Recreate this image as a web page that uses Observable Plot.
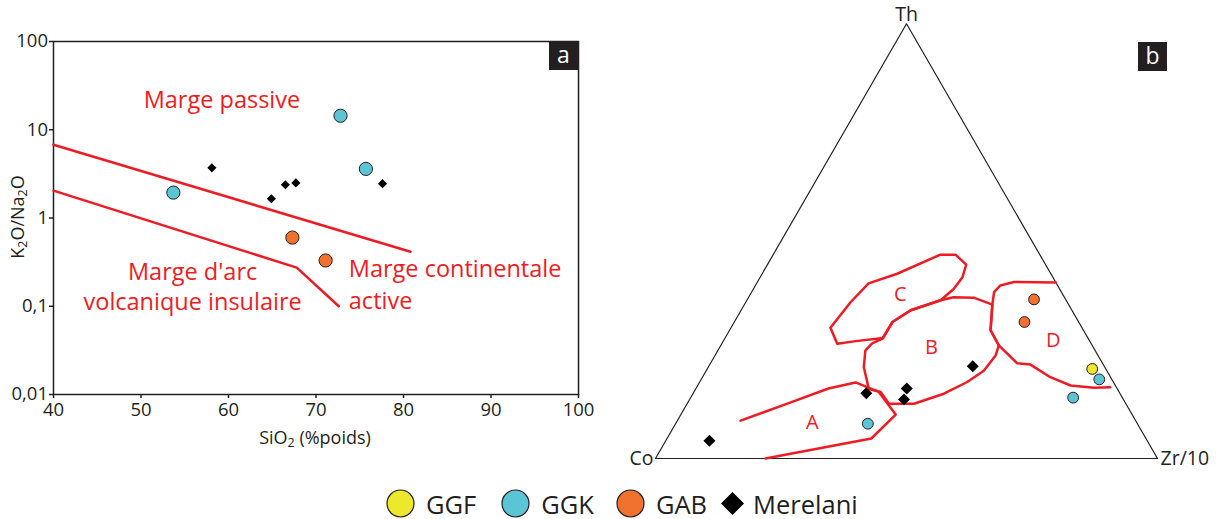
<!DOCTYPE html>
<html><head><meta charset="utf-8">
<script src="https://cdn.jsdelivr.net/npm/d3@7"></script>
<script src="https://cdn.jsdelivr.net/npm/@observablehq/plot@0.6"></script>
<style>
body{margin:0;background:#fff;font-family:"Open Sans",sans-serif;color:#231f20}
#root{position:relative;width:1216px;height:519px;overflow:hidden;background:#fff}
.panel{position:absolute;top:0}
.tag{position:absolute;width:29px;height:29px;background:#231f20;color:#fff;font-size:23px;line-height:26px;text-align:center}
.axt{position:absolute;font-size:18px;line-height:20px;white-space:nowrap;text-align:center}
.axt sub{font-size:12.5px;vertical-align:-3px;line-height:0}
#legend{position:absolute;left:386px;top:489px;display:flex;align-items:center;font-size:25.5px;line-height:28px}
#legend .it{display:flex;align-items:center}
#legend svg{display:block}
</style></head><body><div id="root"></div>
<script>
// ---------- shared ----------
const groupNames = ["GGF", "GGK", "GAB", "Merelani"];
const groupColors = ["#eee82c", "#5bc5d6", "#f1712f", "#000000"];
const red = "#ed1c24";

// ---------- panel a : K2O/Na2O vs SiO2 ----------
const aGroup = ["GGK", "GGK", "GGK", "GAB", "GAB"];
const aSiO2 = [53.7, 72.8, 75.7, 67.3, 71.1];
const aRatio = [1.94, 14.4, 3.6, 0.6, 0.33];
const aMerSiO2 = [58.1, 64.9, 66.5, 67.7, 77.6];
const aMerRatio = [3.7, 1.65, 2.38, 2.5, 2.45];

const passiveSiO2 = [40, 80.8];
const passiveRatio = [6.76, 0.415];
const arcSiO2 = [40, 67.8, 72.6];
const arcRatio = [2.04, 0.274, 0.1];

const xTicksA = [40, 50, 60, 70, 80, 90, 100];
const yTicksA = [0.01, 0.1, 1, 10, 100];
const yTickLabelsA = ["0,01", "0,1", "1", "10", "100"];

const midLabelsA = ["Marge passive", "Marge d'arc", "volcanique insulaire"];
const midLabelSiO2 = [59.25, 55.9, 55.9];
const midLabelRatio = [21.3, 0.24, 0.11];
const startLabelsA = ["Marge continentale", "active"];
const startLabelSiO2 = [73.75, 73.75];
const startLabelRatio = [0.258, 0.114];

// ---------- panel b : Th - Co - Zr/10 ternary (percent) ----------
const bGroup = ["GGK", "GGK", "GGK", "GAB", "GAB", "GGF"];
const bTh = [8.0, 18.2, 14.0, 36.6, 31.4, 20.6];
const bZr = [38.3, 79.3, 76.2, 57.1, 57.8, 76.7];
const bMerTh = [4.1, 15.0, 16.1, 13.6, 21.2];
const bMerZr = [8.7, 34.5, 42.0, 42.7, 52.6];

const fieldATh = [8.7, 12.9, 16.1, 17.5, 15.4, 10.1, 4.6, 0];
const fieldAZr = [12.6, 20.5, 26.4, 31.1, 36.7, 42.8, 40.7, 21.9];
const fieldBTh = [27.5, 31.4, 34.1, 36.4, 37.1, 37.0, 35.4, 29.5, 26.0, 23.7, 20.2, 17.6, 14.9, 12.6, 12.6, 15.3, 16.0, 21.0, 24.8, 26.5, 27.5];
const fieldBZr = [31.4, 31.5, 33.8, 38.6, 40.8, 44.9, 49.4, 52.0, 55.4, 55.9, 55.3, 53.3, 50.0, 45.2, 40.2, 37.2, 34.5, 31.0, 29.4, 29.9, 31.4];
const fieldCTh = [30.1, 36.0, 40.3, 42.5, 46.9, 46.9, 44.6, 41.7, 39.0, 36.4, 34.1, 31.4, 27.7, 27.0, 26.4, 30.1];
const fieldCZr = [19.8, 20.9, 22.3, 26.9, 33.3, 36.3, 39.6, 40.3, 39.9, 38.6, 33.8, 31.5, 31.5, 26.4, 23.0, 19.8];
const fieldDTh = [40.5, 40.6, 39.8, 38.3, 35.4, 29.5, 26.0, 21.9, 21.6, 18.7, 16.8, 16.3, 16.4];
const fieldDZr = [59.5, 51.1, 48.8, 48.3, 49.4, 52.0, 55.4, 61.1, 63.9, 69.3, 74.3, 79.2, 82.4];

const fieldNames = ["A", "B", "C", "D"];
const fieldNameTh = [8.3, 25.5, 37.7, 27.1];
const fieldNameZr = [27.1, 42.2, 29.9, 65.7];

const vertexNames = ["Th", "Co", "Zr/10"];
const vertexTh = [100, 0, 0];
const vertexZr = [0, 0, 100];

// ---------- helpers ----------
const zipA = (xs, ys, extra = {}) => xs.map((x, i) => ({x, y: ys[i], ...Object.fromEntries(Object.entries(extra).map(([k, v]) => [k, v[i]]))}));
const S3 = Math.sqrt(3) / 2;
const tern = (th, zr, extra = {}) => th.map((t, i) => ({x: (zr[i] + t / 2) / 100, y: t * S3 / 100, ...Object.fromEntries(Object.entries(extra).map(([k, v]) => [k, v[i]]))}));

const colorScale = {domain: groupNames, range: groupColors};
const root = document.getElementById("root");
const ink = "#231f20";

// ---------- panel a ----------
const plotA = Plot.plot({
  width: 600, height: 470,
  marginLeft: 53, marginRight: 22, marginTop: 41, marginBottom: 76,
  style: {fontFamily: "'Open Sans', sans-serif", fontSize: "18.5px", color: ink, background: "transparent", overflow: "visible"},
  x: {domain: [40, 100]},
  y: {type: "log", domain: [0.01, 100]},
  color: colorScale,
  marks: [
    Plot.frame({stroke: ink, strokeWidth: 1.5}),
    Plot.axisX({ticks: xTicksA, tickSize: 4, tickPadding: 4, label: null, fontSize: 18.5, strokeWidth: 1.5}),
    Plot.axisY({ticks: yTicksA, tickFormat: d => yTickLabelsA[yTicksA.indexOf(d)], tickSize: 4, tickPadding: 1.5, label: null, fontSize: 18.5, strokeWidth: 1.5}),
    Plot.line(zipA(passiveSiO2, passiveRatio), {x: "x", y: "y", stroke: red, strokeWidth: 2.5}),
    Plot.line(zipA(arcSiO2, arcRatio), {x: "x", y: "y", stroke: red, strokeWidth: 2.5}),
    Plot.text(zipA(midLabelSiO2, midLabelRatio, {t: midLabelsA}), {x: "x", y: "y", text: "t", fill: red, fontSize: 23.5, textAnchor: "middle"}),
    Plot.text(zipA(startLabelSiO2, startLabelRatio, {t: startLabelsA}), {x: "x", y: "y", text: "t", fill: red, fontSize: 23.5, textAnchor: "start"}),
    Plot.dot(zipA(aMerSiO2, aMerRatio), {x: "x", y: "y", symbol: "diamond2", r: 4.1, fill: "#000"}),
    Plot.dot(zipA(aSiO2, aRatio, {g: aGroup}), {x: "x", y: "y", r: 6.6, fill: "g", stroke: ink, strokeWidth: 1})
  ]
});
plotA.classList.add("panel");
plotA.style.left = "0px";
root.appendChild(plotA);

// ---------- panel b ----------
const tri = tern([0, 0, 100, 0], [0, 100, 0, 0]);
const plotB = Plot.plot({
  width: 616, height: 480,
  marginLeft: 55, marginRight: 59, marginTop: 23.3, marginBottom: 22,
  style: {fontFamily: "'Open Sans', sans-serif", fontSize: "19px", color: ink, background: "transparent", overflow: "visible"},
  x: {domain: [0, 1], axis: null},
  y: {domain: [0, S3], axis: null},
  color: colorScale,
  marks: [
    Plot.line(tri, {x: "x", y: "y", stroke: ink, strokeWidth: 1.2}),
    Plot.line(tern(fieldATh, fieldAZr), {x: "x", y: "y", stroke: red, strokeWidth: 2.5, strokeLinejoin: "round"}),
    Plot.line(tern(fieldBTh, fieldBZr), {x: "x", y: "y", stroke: red, strokeWidth: 2.5, strokeLinejoin: "round"}),
    Plot.line(tern(fieldCTh, fieldCZr), {x: "x", y: "y", stroke: red, strokeWidth: 2.5, strokeLinejoin: "round"}),
    Plot.line(tern(fieldDTh, fieldDZr), {x: "x", y: "y", stroke: red, strokeWidth: 2.5, strokeLinejoin: "round"}),
    Plot.text(tern(fieldNameTh, fieldNameZr, {t: fieldNames}), {x: "x", y: "y", text: "t", fill: red, fontSize: 20}),
    Plot.text(tern(vertexTh.slice(0, 1), vertexZr.slice(0, 1), {t: vertexNames.slice(0, 1)}), {x: "x", y: "y", text: "t", fill: ink, fontSize: 19.5, dy: -9}),
    Plot.text(tern(vertexTh.slice(1, 2), vertexZr.slice(1, 2), {t: vertexNames.slice(1, 2)}), {x: "x", y: "y", text: "t", fill: ink, fontSize: 19.5, textAnchor: "end", dx: -2}),
    Plot.text(tern(vertexTh.slice(2, 3), vertexZr.slice(2, 3), {t: vertexNames.slice(2, 3)}), {x: "x", y: "y", text: "t", fill: ink, fontSize: 19.5, textAnchor: "start", dx: 3}),
    Plot.dot(tern(bMerTh, bMerZr), {x: "x", y: "y", symbol: "diamond2", r: 5.4, fill: "#000"}),
    Plot.dot(tern(bTh, bZr, {g: bGroup}), {x: "x", y: "y", r: 5.4, fill: "g", stroke: ink, strokeWidth: 1})
  ]
});
plotB.classList.add("panel");
plotB.style.left = "600px";
root.appendChild(plotB);

// ---------- overlays: panel tags, axis titles, legend ----------
function el(tag, cls, html, css) {
  const e = document.createElement(tag);
  if (cls) e.className = cls;
  if (html != null) e.innerHTML = html;
  Object.assign(e.style, css || {});
  root.appendChild(e);
  return e;
}
el("div", "tag", "a", {left: "549px", top: "41px"});
el("div", "tag", "b", {left: "1138px", top: "42px"});
el("div", "axt", "SiO<sub>2</sub> (%poids)", {left: "215px", width: "200px", top: "427px"});
el("div", "axt", "K<sub>2</sub>O/Na<sub>2</sub>O", {left: "-83px", width: "200px", top: "207px", transform: "rotate(-90deg)"});

const legend = el("div", null, null, {});
legend.id = "legend";
const gaps = [25, 22, 14, 0];
groupNames.forEach((g, i) => {
  const it = document.createElement("div");
  it.className = "it";
  it.style.marginRight = gaps[i] + "px";
  const isDiamond = g === "Merelani";
  const shape = isDiamond
    ? `<svg width="23" height="29"><path d="M11.5,3 L23,14.5 L11.5,26 L0,14.5Z" fill="#000"/></svg>`
    : `<svg width="29" height="29"><circle cx="14.5" cy="14.5" r="13.5" fill="${groupColors[i]}" stroke="${ink}" stroke-width="1.2"/></svg>`;
  it.innerHTML = shape + `<span style="margin-left:${isDiamond ? 9 : 11}px">${g}</span>`;
  legend.appendChild(it);
});
</script></body></html>
